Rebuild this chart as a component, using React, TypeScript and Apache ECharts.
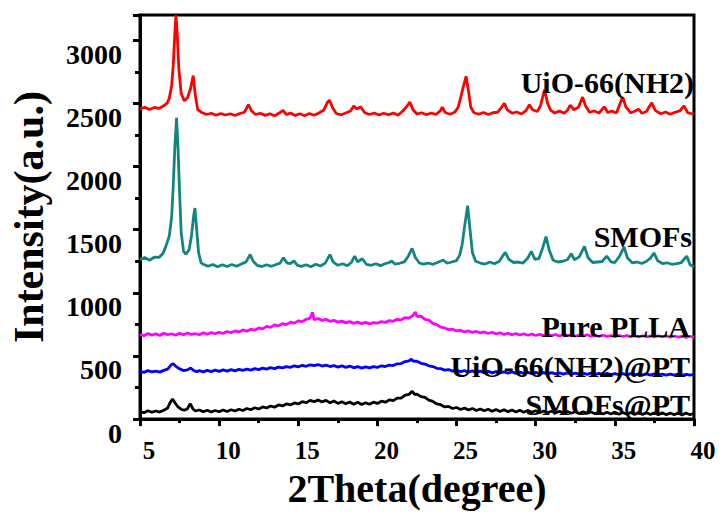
import React, { useEffect, useRef } from "react";
import * as echarts from "echarts";

// 2Theta (degree) vs intensity (a.u.)
const uioX = [5.0,5.3,5.6,5.9,6.2,6.5,6.7,6.85,7.0,7.1,7.2,7.27,7.35,7.45,7.6,7.8,8.0,8.2,8.36,8.5,8.65,8.9,9.2,9.5,9.8,10.1,10.4,10.7,11.0,11.3,11.6,11.85,12.05,12.3,12.6,12.9,13.2,13.5,13.8,14.04,14.25,14.5,14.8,15.1,15.4,15.7,16.0,16.3,16.6,16.85,16.98,17.15,17.4,17.7,18.0,18.3,18.5,18.7,18.94,19.2,19.5,19.8,20.1,20.4,20.7,21.0,21.3,21.6,21.85,22.05,22.25,22.5,22.8,23.1,23.4,23.7,24.0,24.09,24.3,24.6,24.9,25.1,25.24,25.4,25.6,25.75,25.9,26.1,26.4,26.7,27.0,27.3,27.6,27.85,28.02,28.2,28.5,28.8,29.1,29.4,29.6,29.8,30.1,30.3,30.56,30.75,30.95,31.2,31.5,31.8,32.0,32.18,32.4,32.7,32.96,33.15,33.4,33.7,34.0,34.33,34.55,34.8,35.1,35.3,35.5,35.7,36.0,36.3,36.49,36.7,37.0,37.15,37.33,37.55,37.9,38.2,38.5,38.8,39.1,39.37,39.6,39.8,40.0];
const uioY = [2455,2470,2452,2468,2460,2482,2500,2540,2640,2800,3050,3200,3050,2780,2580,2520,2545,2620,2720,2560,2450,2428,2412,2422,2406,2420,2408,2418,2404,2420,2430,2490,2440,2412,2422,2405,2418,2402,2424,2445,2412,2424,2405,2418,2402,2420,2406,2424,2445,2510,2525,2470,2420,2410,2424,2440,2480,2455,2473,2426,2412,2424,2408,2422,2410,2424,2406,2440,2475,2510,2450,2416,2426,2410,2424,2412,2445,2470,2426,2414,2432,2470,2535,2620,2715,2600,2470,2426,2414,2428,2412,2426,2430,2470,2500,2450,2422,2432,2416,2445,2490,2450,2436,2480,2610,2500,2445,2424,2440,2422,2445,2486,2450,2470,2550,2480,2430,2440,2424,2473,2428,2440,2424,2490,2550,2470,2426,2440,2455,2422,2436,2470,2505,2445,2418,2432,2414,2430,2440,2480,2426,2420,2412];

const smofX = [5.0,5.3,5.6,5.9,6.2,6.45,6.64,6.85,7.0,7.1,7.2,7.31,7.4,7.5,7.6,7.75,7.9,8.1,8.25,8.38,8.47,8.58,8.7,8.85,9.0,9.3,9.6,9.9,10.2,10.5,10.8,11.1,11.4,11.7,11.96,12.15,12.4,12.7,13.0,13.3,13.6,13.85,14.06,14.3,14.5,14.73,14.95,15.2,15.5,15.8,16.1,16.4,16.7,17.0,17.2,17.5,17.8,18.1,18.35,18.56,18.75,19.04,19.3,19.6,19.9,20.2,20.5,20.75,20.9,21.1,21.4,21.7,21.95,22.19,22.4,22.65,22.9,23.2,23.5,23.8,24.15,24.4,24.7,25.0,25.2,25.35,25.5,25.7,25.85,26.0,26.2,26.5,26.8,27.1,27.4,27.7,27.9,28.08,28.3,28.6,28.9,29.2,29.5,29.72,29.95,30.2,30.45,30.65,30.85,31.1,31.4,31.7,32.0,32.24,32.45,32.75,33.08,33.3,33.6,33.9,34.2,34.49,34.75,35.0,35.3,35.58,35.8,36.1,36.4,36.7,37.0,37.25,37.47,37.7,38.0,38.3,38.6,38.9,39.2,39.54,39.75,40.0];
const smofY = [1265,1280,1258,1282,1280,1312,1370,1450,1600,1850,2150,2385,2150,1800,1480,1330,1305,1340,1450,1600,1671,1500,1320,1240,1226,1210,1224,1206,1222,1208,1224,1210,1228,1245,1303,1250,1218,1208,1222,1210,1224,1235,1278,1235,1232,1252,1218,1210,1222,1206,1226,1212,1235,1303,1245,1218,1230,1214,1240,1291,1245,1270,1226,1218,1230,1215,1232,1240,1252,1228,1234,1245,1290,1352,1280,1236,1228,1236,1226,1240,1260,1234,1244,1255,1300,1380,1520,1690,1500,1320,1250,1236,1228,1244,1230,1250,1290,1321,1265,1240,1244,1236,1275,1329,1265,1270,1360,1445,1340,1258,1244,1250,1262,1309,1262,1285,1368,1280,1240,1244,1248,1291,1246,1240,1290,1363,1275,1238,1244,1232,1250,1275,1316,1255,1232,1238,1226,1232,1240,1291,1222,1205];

const pllaX = [5.0,5.25,5.5,5.75,6.0,6.25,6.5,6.75,7.0,7.25,7.5,7.75,8.0,8.25,8.5,8.75,9.0,9.25,9.5,9.75,10.0,10.25,10.5,10.75,11.0,11.25,11.5,11.75,12.0,12.25,12.5,12.75,13.0,13.25,13.5,13.75,14.0,14.25,14.5,14.75,15.0,15.25,15.5,15.75,15.9,16.0,16.25,16.5,16.75,17.0,17.25,17.5,17.75,18.0,18.25,18.5,18.75,19.0,19.25,19.5,19.75,20.0,20.25,20.5,20.75,21.0,21.25,21.5,21.75,22.0,22.25,22.4,22.5,22.75,23.0,23.25,23.5,23.75,24.0,24.25,24.5,24.75,25.0,25.25,25.5,25.75,26.0,26.25,26.5,26.75,27.0,27.25,27.5,27.75,28.0,28.25,28.5,28.75,29.0,29.25,29.5,29.75,30.0,30.25,30.5,30.75,31.0,31.25,31.5,31.75,32.0,32.25,32.5,32.75,33.0,33.25,33.5,33.75,34.0,34.25,34.5,34.75,35.0,35.25,35.5,35.75,36.0,36.25,36.5,36.75,37.0,37.25,37.5,37.75,38.0,38.25,38.5,38.75,39.0,39.25,39.5,39.75,40.0];
const pllaY = [672,660,678,665,675,662,680,668,676,664,679,668,682,670,676,668,684,672,686,676,688,678,694,684,698,690,706,696,712,704,722,714,734,726,746,738,756,748,768,760,778,772,790,800,845,788,796,782,790,774,782,768,776,762,772,758,768,756,766,754,764,760,772,766,780,774,790,786,804,800,822,848,812,816,790,784,758,748,728,722,708,712,698,704,690,698,686,694,682,690,678,688,674,684,670,680,668,678,666,676,664,674,662,672,660,670,662,670,658,668,660,668,656,666,658,668,656,664,654,664,656,662,652,662,654,662,652,660,650,660,652,658,650,660,650,658,648,658,650,656,648,656,650];

const uioPtX = [5.0,5.25,5.5,5.75,6.0,6.25,6.5,6.75,6.9,7.0,7.1,7.25,7.5,7.75,8.0,8.2,8.4,8.6,8.75,9.0,9.25,9.5,9.75,10.0,10.25,10.5,10.75,11.0,11.25,11.5,11.75,12.0,12.25,12.5,12.75,13.0,13.25,13.5,13.75,14.0,14.25,14.5,14.75,15.0,15.25,15.5,15.75,16.0,16.25,16.5,16.75,17.0,17.25,17.5,17.75,18.0,18.25,18.5,18.75,19.0,19.25,19.5,19.75,20.0,20.25,20.5,20.75,21.0,21.25,21.5,21.75,22.0,22.15,22.25,22.5,22.75,23.0,23.25,23.5,23.75,24.0,24.25,24.5,24.75,25.0,25.25,25.5,25.75,26.0,26.25,26.5,26.75,27.0,27.25,27.5,27.75,28.0,28.25,28.5,28.75,29.0,29.25,29.5,29.75,30.0,30.25,30.5,30.75,31.0,31.25,31.5,31.75,32.0,32.25,32.5,32.75,33.0,33.25,33.5,33.75,34.0,34.25,34.5,34.75,35.0,35.25,35.5,35.75,36.0,36.25,36.5,36.75,37.0,37.25,37.5,37.75,38.0,38.25,38.5,38.75,39.0,39.25,39.5,39.75,40.0];
const uioPtY = [378,370,384,374,380,372,386,396,420,432,438,420,398,384,390,404,384,376,384,374,386,376,388,378,390,380,392,382,394,386,396,388,400,392,404,396,408,400,412,406,416,410,422,414,426,418,430,424,432,420,428,416,424,412,422,410,420,406,416,404,414,406,416,410,422,416,428,424,438,440,456,462,474,460,458,442,436,422,416,402,400,388,392,380,388,376,384,372,382,370,380,368,378,366,376,366,374,364,374,362,372,362,370,360,370,360,368,358,368,358,366,356,366,356,364,356,364,354,364,354,362,352,362,352,360,352,360,350,360,350,358,350,358,348,358,350,356,348,356,348,356,346,354,348,354];

const smofPtX = [5.0,5.25,5.5,5.75,6.0,6.25,6.5,6.75,6.9,7.05,7.2,7.4,7.6,7.8,8.0,8.17,8.35,8.5,8.75,9.0,9.25,9.5,9.75,10.0,10.25,10.5,10.75,11.0,11.25,11.5,11.75,12.0,12.25,12.5,12.75,13.0,13.25,13.5,13.75,14.0,14.25,14.5,14.75,15.0,15.25,15.5,15.75,16.0,16.25,16.5,16.75,17.0,17.25,17.5,17.75,18.0,18.25,18.5,18.75,19.0,19.25,19.5,19.75,20.0,20.25,20.5,20.75,21.0,21.25,21.5,21.75,22.0,22.2,22.35,22.5,22.75,23.0,23.25,23.5,23.75,24.0,24.25,24.5,24.75,25.0,25.25,25.5,25.75,26.0,26.25,26.5,26.75,27.0,27.25,27.5,27.75,28.0,28.25,28.5,28.75,29.0,29.25,29.5,29.75,30.0,30.25,30.5,30.75,31.0,31.25,31.5,31.75,32.0,32.25,32.5,32.75,33.0,33.25,33.5,33.75,34.0,34.25,34.5,34.75,35.0,35.25,35.5,35.75,36.0,36.25,36.5,36.75,37.0,37.25,37.5,37.75,38.0,38.25,38.5,38.75,39.0,39.25,39.5,39.75,40.0];
const smofPtY = [60,50,66,54,64,56,70,88,130,158,132,96,78,70,82,122,80,64,72,58,70,56,68,58,72,60,74,64,78,68,84,74,90,80,96,88,104,94,112,104,120,112,128,120,138,130,148,138,152,136,148,130,144,124,138,122,136,118,134,116,130,118,134,124,142,134,152,146,166,166,190,196,220,196,198,178,172,150,140,120,114,96,100,84,92,76,88,72,84,68,80,66,78,62,76,60,74,58,72,56,70,54,68,54,66,50,64,50,62,48,62,46,60,46,58,44,58,44,56,42,56,40,54,40,54,38,52,38,52,36,52,36,50,36,50,34,50,34,48,34,48,32,48,34,46];

const seriesNames = ["UiO-66(NH2)", "SMOFs", "Pure PLLA", "UiO-66(NH2)@PT", "SMOFs@PT"];
const seriesColors = ["#ff0000", "#138580", "#ff00ff", "#0000ff", "#000000"];
const xTicks = [5, 10, 15, 20, 25, 30, 35, 40];
const yTicks = [0, 500, 1000, 1500, 2000, 2500, 3000];

const zip = (xs: number[], ys: number[]) => xs.map((x, i) => [x, ys[i]]);

export default function App() {
  const ref = useRef<HTMLDivElement>(null);
  useEffect(() => {
    document.body.style.margin = "0";
    if (!ref.current) return;
    const chart = echarts.init(ref.current, null, { renderer: "svg" });
    const data = [zip(uioX, uioY), zip(smofX, smofY), zip(pllaX, pllaY), zip(uioPtX, uioPtY), zip(smofPtX, smofPtY)];
    const font = "Liberation Serif";
    const labelPos = [
      { x: 694, y: 82 },
      { x: 692, y: 236 },
      { x: 690, y: 326 },
      { x: 690, y: 366 },
      { x: 690, y: 404 },
    ];
    chart.setOption({
      animation: false,
      backgroundColor: "#ffffff",
      grid: {
        left: 139, right: 28, top: 15, bottom: 82,
        show: true, borderColor: "#000", borderWidth: 3, backgroundColor: "transparent",
      },
      xAxis: {
        type: "value",
        min: xTicks[0],
        max: xTicks[xTicks.length - 1],
        interval: 5,
        name: "2Theta(degree)",
        nameLocation: "middle",
        nameGap: 39,
        nameTextStyle: { fontFamily: font, fontWeight: "bold", fontSize: 40, color: "#000" },
        axisLine: { lineStyle: { color: "#000", width: 3 } },
        axisTick: { inside: false, length: 7, lineStyle: { color: "#000", width: 3 } },
        minorTick: { show: true, splitNumber: 2, length: 4, lineStyle: { color: "#000", width: 3 } },
        splitLine: { show: false },
        axisLabel: {
          fontFamily: font, fontWeight: "bold", fontSize: 25, color: "#000",
          margin: 19, padding: [0, 0, 0, 18],
        },
      },
      yAxis: {
        type: "value",
        min: 0,
        max: 3200,
        interval: 500,
        name: "Intensity(a.u.)",
        nameLocation: "middle",
        nameGap: 90,
        nameTextStyle: { fontFamily: font, fontWeight: "bold", fontSize: 42, color: "#000" },
        axisLine: { lineStyle: { color: "#000", width: 3 } },
        axisTick: { inside: false, length: 7, lineStyle: { color: "#000", width: 3 } },
        minorTick: { show: true, splitNumber: 2, length: 5, lineStyle: { color: "#000", width: 3 } },
        splitLine: { show: false },
        axisLabel: {
          fontFamily: font, fontWeight: "bold", fontSize: 28, color: "#000",
          margin: 18, verticalAlign: "top",
          formatter: (v: number) => (yTicks.indexOf(v) >= 0 ? String(v) : ""),
        },
      },
      series: data.map((d, i) => ({
        type: "line",
        name: seriesNames[i],
        data: d,
        showSymbol: false,
        symbol: "none",
        clip: true,
        lineStyle: { color: seriesColors[i], width: 2.8 },
        z: 2,
      })),
      graphic: seriesNames.map((name, i) => ({
        type: "text",
        x: labelPos[i].x,
        y: labelPos[i].y,
        z: 10,
        style: {
          text: name,
          textAlign: "right",
          textVerticalAlign: "middle",
          fontFamily: font,
          fontWeight: "bold",
          fontSize: 30,
          fill: "#000",
        },
      })),
    });
    return () => chart.dispose();
  }, []);
  return <div ref={ref} style={{ width: 722, height: 513 }} />;
}
